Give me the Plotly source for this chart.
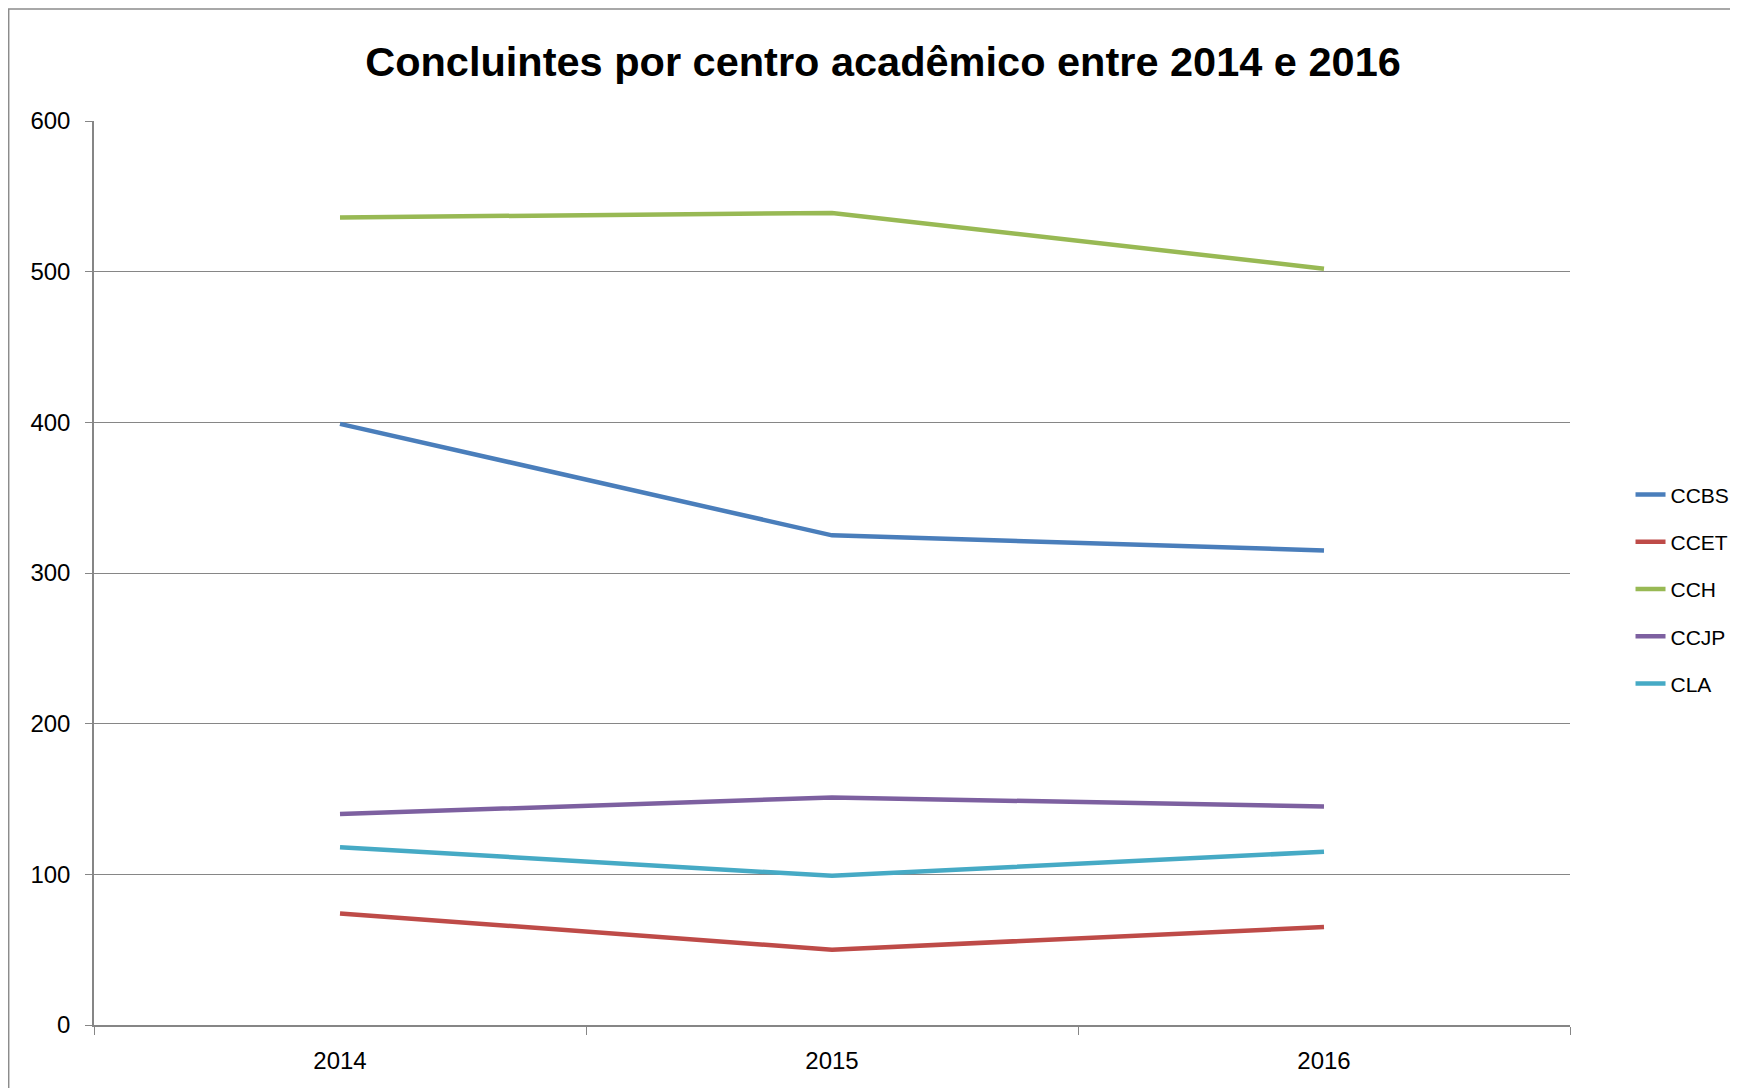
import plotly.graph_objects as go

# Concluintes por centro acadêmico
years = ["2014", "2015", "2016"]
ccbs = [399, 325, 315]
ccet = [74, 50, 65]
cch = [536, 539, 502]
ccjp = [140, 151, 145]
cla = [118, 99, 115]

series = [
    ("CCBS", ccbs, "#4A7EBB"),
    ("CCET", ccet, "#BE4B48"),
    ("CCH", cch, "#98B954"),
    ("CCJP", ccjp, "#7D60A0"),
    ("CLA", cla, "#46AAC5"),
]

fig = go.Figure()
for name, vals, color in series:
    fig.add_trace(go.Scatter(
        x=years, y=vals, mode="lines", name=name, legendgroup=name,
        line=dict(color=color, width=4.5),
    ))

# the page adds an 8px body margin, so margins are 8px smaller than measured
W, H = 1738, 1088
L, T, PW, PH = 86, 113, 1488, 904

# outer chart border like the Excel chart area
fig.add_shape(type="rect", xref="paper", yref="paper",
              x0=(0 - L) / PW, x1=1.2, y0=-0.2, y1=1 + (T - 1) / PH,
              line=dict(color="#8c8c8c", width=1.5), layer="below")

fig.update_layout(
    width=W, height=H,
    margin=dict(l=L, r=W - L - PW, t=T, b=H - T - PH),
    paper_bgcolor="white", plot_bgcolor="white",
    font=dict(family="Liberation Sans, Arial, sans-serif", color="#000000"),
    title=dict(text="<b>Concluintes por centro acadêmico entre 2014 e 2016</b>",
               x=875 / W, xanchor="center", y=1 - 53 / H, yanchor="middle",
               font=dict(size=41.5)),
    legend=dict(x=1.041, xanchor="left", y=0.482, yanchor="middle",
                traceorder="grouped", tracegroupgap=17,
                font=dict(size=21), bgcolor="rgba(0,0,0,0)"),
    showlegend=True,
)

fig.update_xaxes(
    type="category", range=[-0.5, 2.5], tickson="boundaries",
    ticks="outside", ticklen=8, tickcolor="#868686",
    showgrid=False, showline=True, linecolor="#868686", linewidth=1.5,
    tickfont=dict(size=24), ticklabelstandoff=13,
)
fig.update_yaxes(
    range=[0, 600], dtick=100, ticks="outside", ticklen=7, tickcolor="#868686",
    showgrid=True, gridcolor="#868686", gridwidth=1,
    showline=True, linecolor="#868686", linewidth=1.5,
    zeroline=False, tickfont=dict(size=24), ticklabelstandoff=10,
)

fig.write_html("out.html")
